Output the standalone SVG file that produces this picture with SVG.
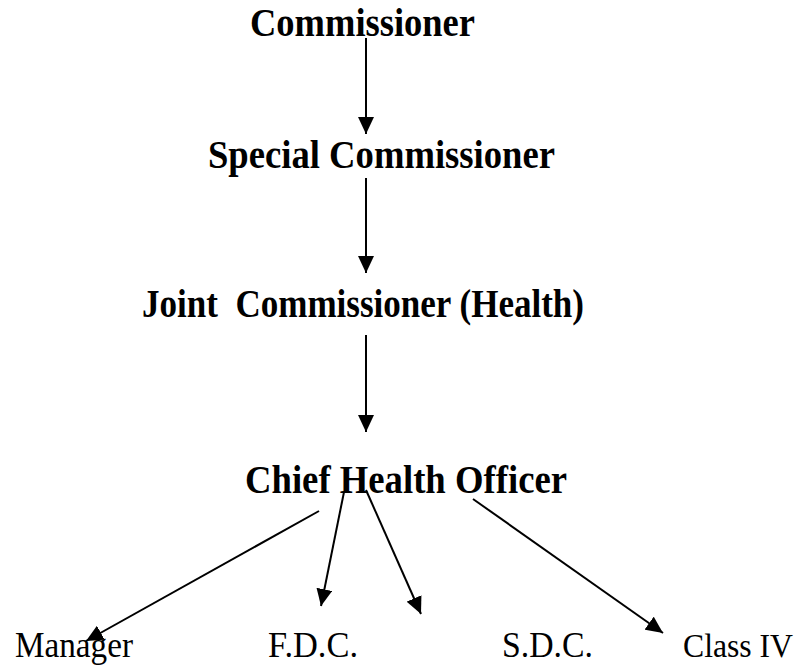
<svg xmlns="http://www.w3.org/2000/svg" width="804" height="667" viewBox="0 0 804 667">
<style>
.b{font-family:"Liberation Serif","Times New Roman",serif;font-weight:bold;font-size:41px;fill:#000}
.r{font-family:"Liberation Serif","Times New Roman",serif;font-size:36px;fill:#000}
.c{stroke:#000;stroke-width:2;fill:none;marker-end:url(#ah)}
</style>
<defs>
<marker id="ah" markerUnits="userSpaceOnUse" markerWidth="17" markerHeight="16" refX="17" refY="8" orient="auto" viewBox="0 0 17 16">
<path d="M0,0 L17,8 L0,16 z" fill="#000"/>
</marker>
</defs>
<rect width="804" height="667" fill="#fff"/>
<g id="connectors">
<line class="c" x1="366" y1="38" x2="366" y2="134"/>
<line class="c" x1="366" y1="178" x2="366" y2="273"/>
<line class="c" x1="366" y1="335" x2="366" y2="432"/>
<line class="c" x1="319" y1="511" x2="86" y2="641"/>
<line class="c" x1="344" y1="492" x2="321" y2="606"/>
<line class="c" x1="366" y1="490" x2="421" y2="614"/>
<line class="c" x1="473" y1="499" x2="663" y2="633"/>
</g>
<g id="commissioner"><text class="b" x="250" y="36" textLength="225" lengthAdjust="spacingAndGlyphs">Commissioner</text></g>
<g id="special-commissioner"><text class="b" x="208" y="168" textLength="347" lengthAdjust="spacingAndGlyphs">Special Commissioner</text></g>
<g id="joint-commissioner"><text class="b" x="142" y="317" textLength="442" lengthAdjust="spacingAndGlyphs" xml:space="preserve">Joint  Commissioner (Health)</text></g>
<g id="chief-health-officer"><text class="b" x="245" y="493" textLength="322" lengthAdjust="spacingAndGlyphs">Chief Health Officer</text></g>
<g id="manager"><text class="r" x="15" y="657" textLength="118" lengthAdjust="spacingAndGlyphs">Manager</text></g>
<g id="fdc"><text class="r" x="268" y="657" textLength="90" lengthAdjust="spacingAndGlyphs">F.D.C.</text></g>
<g id="sdc"><text class="r" x="502" y="657" textLength="91" lengthAdjust="spacingAndGlyphs">S.D.C.</text></g>
<g id="class-iv"><text class="r" x="683" y="657" style="font-size:33px" textLength="110" lengthAdjust="spacingAndGlyphs">Class IV</text></g>
</svg>
